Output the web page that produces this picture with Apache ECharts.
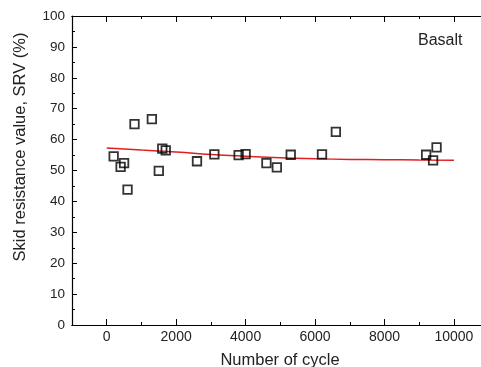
<!DOCTYPE html>
<html><head><meta charset="utf-8">
<script src="https://cdn.jsdelivr.net/npm/echarts@6/dist/echarts.min.js"></script>
<style>html,body{margin:0;padding:0;background:#fff}#c{width:481px;height:367px}</style>
</head><body><div id="c"></div>
<script>
var cycles = [200, 400, 500, 600, 800, 1300, 1500, 1600, 1700, 2600, 3100, 3800, 4000, 4600, 4900, 5300, 6200, 6600, 9200, 9400, 9500];
var srv = [54.6, 51.2, 52.4, 43.8, 65.0, 66.6, 49.9, 57.1, 56.5, 53.0, 55.2, 55.0, 55.3, 52.4, 51.0, 55.1, 55.2, 62.5, 55.1, 53.3, 57.5];
var fitX = [0, 1000, 2000, 3000, 4000, 5000, 6000, 7000, 8000, 9000, 10000];
var fitY = [57.3, 56.6, 56.0, 55.2, 54.6, 54.1, 53.8, 53.6, 53.5, 53.4, 53.3];
var xTicks = [0, 2000, 4000, 6000, 8000, 10000];
var xMinorTicks = [-1000, 1000, 3000, 5000, 7000, 9000];
var yTicks = [0, 10, 20, 30, 40, 50, 60, 70, 80, 90, 100];

var font = 'Liberation Sans';
var XMIN = -1000, XMAX = 10780;
var chart = echarts.init(document.getElementById('c'));
function xAx(pos, showLabel, ticks, len) {
  return {
    type: 'value', min: XMIN, max: XMAX, position: pos,
    axisLine: {show: true, onZero: false, lineStyle: {color: '#000', width: 1.2}},
    splitLine: {show: false},
    axisTick: {show: true, inside: true, length: len, customValues: ticks, lineStyle: {color: '#000'}},
    axisLabel: showLabel ? {fontFamily: font, fontSize: 14, color: '#222', margin: 5, customValues: ticks,
                            formatter: function (v) { return String(v); }}
                         : {show: false}
  };
}
chart.setOption({
  animation: false,
  grid: {left: 72, right: 0, top: 16, bottom: 42, containLabel: false},
  xAxis: [
    xAx('bottom', true, xTicks, 6),
    xAx('bottom', false, xMinorTicks, 3),
    xAx('top', false, xTicks, 6),
    xAx('top', false, xMinorTicks, 3)
  ],
  yAxis: [{
    type: 'value', min: 0, max: 100, interval: 10, position: 'left',
    axisLine: {show: true, onZero: false, lineStyle: {color: '#000', width: 1.2}},
    splitLine: {show: false},
    axisTick: {show: true, inside: true, length: 5, lineStyle: {color: '#000'}},
    minorTick: {show: true, splitNumber: 2, length: 3, lineStyle: {color: '#000'}},
    axisLabel: {fontFamily: font, fontSize: 13.5, color: '#222', margin: 7,
                customValues: yTicks, formatter: function (v) { return String(v); }}
  }],
  graphic: [
    {type: 'text', left: 418, top: 33,
     style: {text: 'Basalt', font: '16px "Liberation Sans"', fill: '#222'}},
    {type: 'text', x: 280, y: 360,
     style: {text: 'Number of cycle', font: '16.5px "Liberation Sans"', fill: '#222', align: 'center', verticalAlign: 'middle'}},
    {type: 'text', x: 20, y: 147, rotation: Math.PI / 2,
     style: {text: 'Skid resistance value, SRV (%)', font: '16.5px "Liberation Sans"', fill: '#222', align: 'center', verticalAlign: 'middle'}}
  ],
  series: [
    {
      type: 'line', xAxisIndex: 0, smooth: true, symbol: 'none',
      data: fitX.map(function (x, i) { return [x, fitY[i]]; }),
      lineStyle: {color: '#e02020', width: 1.5}, z: 2
    },
    {
      type: 'scatter', xAxisIndex: 0, symbol: 'rect', symbolSize: 8.5,
      data: cycles.map(function (x, i) { return [x, srv[i]]; }),
      itemStyle: {color: 'rgba(255,255,255,0)', borderColor: '#000', borderWidth: 1.8}, z: 3
    }
  ]
});
</script></body></html>
